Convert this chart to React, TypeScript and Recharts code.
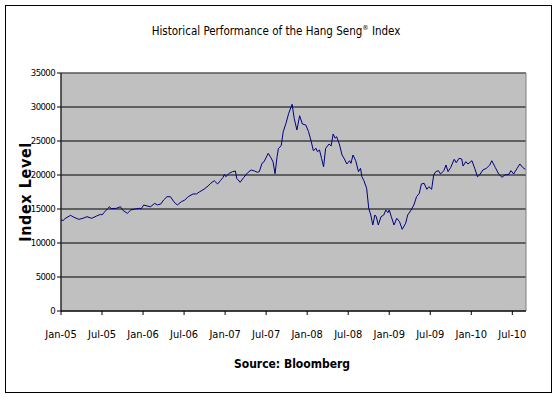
import React from "react";
import { LineChart, Line, XAxis, YAxis, CartesianGrid, ReferenceArea } from "recharts";

// month index from Jan-05 (0) and index level
const months: number[] = [
  0.0, 0.3, 0.6, 1.4, 1.9, 2.6, 3.2, 3.8, 4.5, 5.2, 5.8, 6.0, 6.4, 6.8, 7.1, 7.3, 8.1, 8.7, 9.0, 9.7, 10.2, 10.8, 11.5,
  11.7, 12.1, 12.6, 13.1, 13.7, 14.1, 14.6, 15.0, 15.5, 16.0, 16.5, 17.0, 17.6, 18.1, 18.6, 19.3, 19.8, 20.3, 20.9, 21.5, 21.9, 22.4, 22.9, 23.3, 23.7,
  23.9, 24.1, 24.6, 25.1, 25.5, 25.7, 26.2, 26.7, 27.3, 27.8, 28.3, 28.7, 29.0, 29.4, 29.7, 30.3, 30.7, 31.0, 31.3, 31.6, 31.8, 32.2, 32.5, 32.9, 33.3, 33.8, 34.1, 34.5, 34.9, 35.3,
  35.8, 36.2, 36.6, 36.9, 37.3, 37.5, 37.8, 38.1, 38.4, 38.7, 39.2, 39.5, 39.8, 40.1, 40.3, 40.7, 41.1, 41.4, 41.8, 42.2, 42.4, 42.7, 43.1, 43.5, 43.8, 44.0, 44.3, 44.7, 45.0, 45.3, 45.6, 45.9, 46.1, 46.4, 46.8,
  47.2, 47.5, 47.8, 48.0, 48.3, 48.7, 49.1, 49.5, 49.9, 50.4, 50.7, 51.2, 51.6, 52.0, 52.4, 52.7, 53.1, 53.5, 53.8, 54.2, 54.5, 54.8, 55.2, 55.5, 56.0, 56.3, 56.6, 57.0,
  57.5, 57.8, 58.2, 58.6, 58.8, 59.2, 59.5, 60.1, 60.5, 60.9, 61.2, 61.7, 62.2, 62.7, 63.0, 63.5, 64.0, 64.5, 64.9, 65.5, 65.8, 66.2, 66.7, 67.1, 67.5, 67.9,
];

const indexLevels: number[] = [
  13400, 13300, 13600, 14070, 13780, 13480, 13630, 13870, 13630, 13970, 14220, 14120, 14600, 15040, 15340, 15040, 15100, 15340, 14850, 14360, 14850, 15000, 15100,
  15000, 15590, 15440, 15340, 15830, 15590, 15740, 16320, 16810, 16810, 16070, 15590, 16070, 16320, 16810, 17210, 17210, 17550, 17900, 18380, 18780, 19160, 18680, 19160, 19660,
  20100, 19750, 20250, 20490, 20590, 19510, 18930, 19610, 20340, 20740, 20590, 20400, 20490, 21720, 21960, 23190, 22550, 21960, 20190, 22700, 23920, 24310, 26370, 27600, 29070, 30400, 28330, 26620, 28720, 27500,
  27350, 26370, 24900, 23580, 23920, 23430, 23680, 22450, 21220, 23920, 24560, 24270, 26030, 25400, 25640, 24560, 22940, 22450, 21620, 22100, 21720, 22940, 22100, 20490, 20980, 19750, 19160, 18040, 15100, 14120, 12650, 14120, 13870, 12650, 13870,
  14120, 14850, 14460, 14850, 13870, 12650, 13630, 13140, 12010, 12900, 14120, 14850, 15590, 16810, 17310, 18680, 18780, 17900, 18280, 17900, 20000, 20490, 20640, 20150, 20640, 21470, 20490, 21130,
  22310, 21810, 22450, 22350, 21320, 21960, 21620, 22100, 20980, 19750, 20000, 20740, 20980, 21470, 22100, 21130, 20150, 19660, 20000, 20100, 20640, 20150, 20980, 21620, 21130, 20830,
];

const xTickValues: number[] = [0, 6, 12, 18, 24, 30, 36, 42, 48, 54, 60, 66];
const xTickLabels: string[] = ["Jan-05", "Jul-05", "Jan-06", "Jul-06", "Jan-07", "Jul-07", "Jan-08", "Jul-08", "Jan-09", "Jul-09", "Jan-10", "Jul-10"];
const yTickValues: number[] = [0, 5000, 10000, 15000, 20000, 25000, 30000, 35000];

const data = months.map((m, i) => ({ m, v: indexLevels[i] }));

const font = "'DejaVu Sans', sans-serif";

export default function App() {
  return (
    <div style={{ position: "absolute", left: 0, top: 0, width: 557, height: 398, background: "#fff" }}>
      <div
        style={{
          position: "absolute",
          left: 5,
          top: 5,
          width: 547,
          height: 388,
          boxSizing: "border-box",
          border: "1px solid #000",
        }}
      />
      <div style={{ position: "absolute", left: 0, top: 0 }}>
        <LineChart width={557} height={398} data={data} margin={{ top: 73, right: 31, bottom: 57, left: 5 }}>
          <CartesianGrid vertical={false} stroke="#000" strokeWidth={1} fill="#C0C0C0" fillOpacity={1} />
          <ReferenceArea x1={0} x2={68} y1={0} y2={35000} fill="none" stroke="#808080" strokeWidth={1} ifOverflow="visible" />
          <XAxis
            type="number"
            dataKey="m"
            domain={[0, 68]}
            ticks={xTickValues}
            tickFormatter={(v: number) => xTickLabels[xTickValues.indexOf(v)] ?? ""}
            stroke="#000"
            tickSize={4}
            tickMargin={15}
            height={30}
            interval={0}
            tick={{ fill: "#000", fontSize: 11, fontFamily: font, fontStretch: "condensed" }}
          />
          <YAxis
            type="number"
            domain={[0, 35000]}
            ticks={yTickValues}
            stroke="#000"
            tickSize={4}
            tickMargin={2}
            width={56}
            interval={0}
            tick={{ fill: "#000", fontSize: 9.5, fontFamily: font, fontStretch: "condensed", letterSpacing: -0.6 }}
          />
          <Line
            type="linear"
            dataKey="v"
            stroke="#000080"
            strokeWidth={1}
            dot={false}
            isAnimationActive={false}
          />
        </LineChart>
      </div>
      <svg width={557} height={398} style={{ position: "absolute", left: 0, top: 0, pointerEvents: "none" }}>
        <text x={276} y={35} textAnchor="middle" fontFamily={font} fontStretch="condensed" fontSize={11.5} fill="#000">
          Historical Performance of the Hang Seng
          <tspan dy={-5} fontSize={7}>®</tspan>
          <tspan dy={5}> Index</tspan>
        </text>
        <text
          x={0}
          y={0}
          transform="translate(31,192) rotate(-90)"
          textAnchor="middle"
          fontFamily={font}
          fontStretch="condensed"
          fontWeight="bold"
          fontSize={16}
          letterSpacing={0.6}
          fill="#000"
        >
          Index Level
        </text>
        <text x={292} y={368} textAnchor="middle" fontFamily={font} fontStretch="condensed" fontWeight="bold" fontSize={12} fill="#000">
          Source: Bloomberg
        </text>
      </svg>
    </div>
  );
}
